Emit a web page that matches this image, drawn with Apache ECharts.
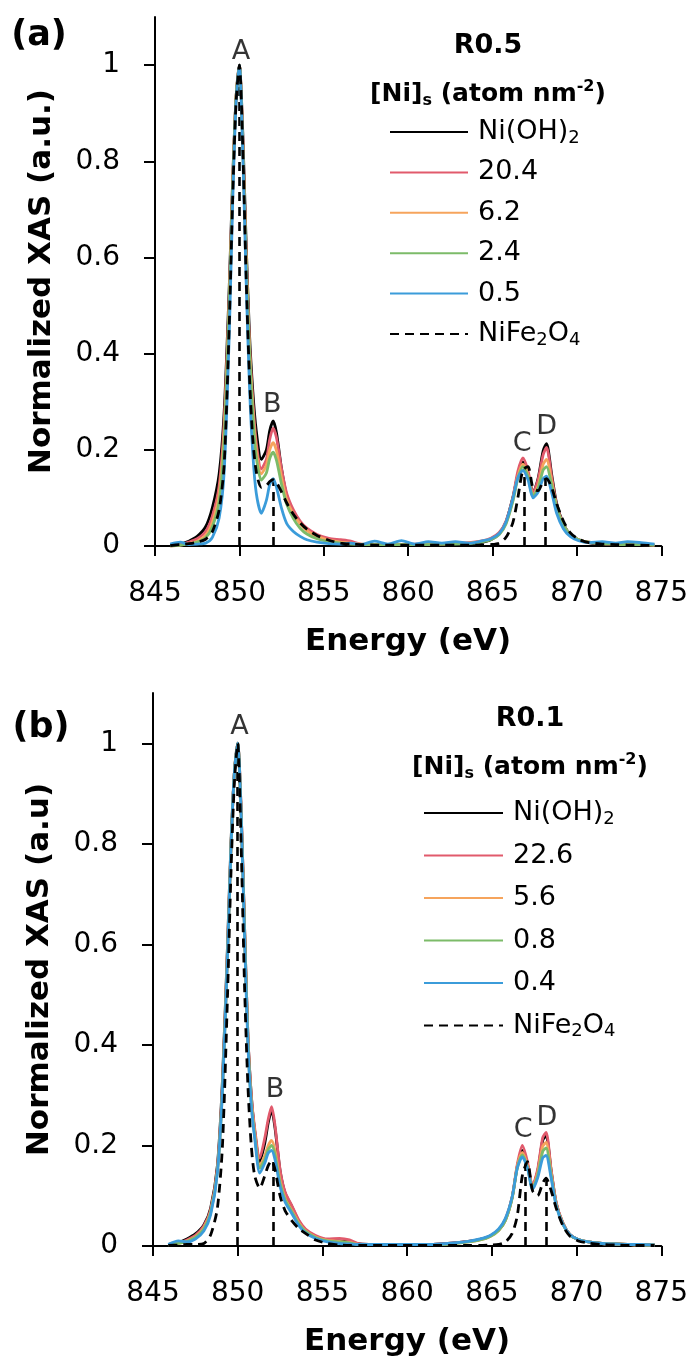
<!DOCTYPE html>
<html>
<head>
<meta charset="utf-8">
<script src="https://cdn.jsdelivr.net/npm/echarts@6/dist/echarts.min.js"></script>
<style>
html, body { margin: 0; padding: 0; background: #fff; }
#container { width: 691px; height: 1365px; }
</style>
</head>
<body>
<div id="container"></div>
<script>
var dom = document.getElementById("container");
var myChart = echarts.init(dom);
var FONT = 'DejaVu Sans';

// energy grid (eV), shared by both panels
var energy = [845.9, 846.5, 847.0, 847.5, 848.0, 848.4, 848.8, 849.1, 849.4, 849.6,
    849.8, 850.0, 850.2, 850.4, 850.6, 850.8, 851.0, 851.3, 851.6, 851.8,
    852.0, 852.2, 852.5, 852.8, 853.2, 853.6, 854.0, 854.6, 855.3, 856.0,
    856.6, 857.2, 858.0, 858.8, 859.6, 860.4, 861.2, 862.0, 862.8, 863.6,
    864.3, 864.9, 865.4, 865.8, 866.2, 866.5, 866.8, 867.1, 867.4, 867.7,
    868.0, 868.2, 868.5, 868.8, 869.2, 869.6, 870.1, 870.7, 871.5, 872.3,
    873.0, 873.8, 874.6];

// (a) R0.5
var namesA = ['Ni(OH)2', '20.4', '6.2', '2.4', '0.5', 'NiFe2O4'];
var niohA = [0.001, 0.004, 0.010, 0.020, 0.040, 0.080, 0.150, 0.280, 0.540, 0.760,
    0.930, 1.000, 0.860, 0.630, 0.440, 0.320, 0.240, 0.180, 0.200, 0.240,
    0.260, 0.235, 0.160, 0.105, 0.070, 0.048, 0.034, 0.020, 0.011, 0.007,
    0.005, 0.003, 0.002, 0.002, 0.002, 0.002, 0.002, 0.002, 0.003, 0.004,
    0.007, 0.013, 0.026, 0.050, 0.100, 0.148, 0.175, 0.152, 0.110, 0.140,
    0.198, 0.213, 0.150, 0.088, 0.046, 0.024, 0.013, 0.007, 0.004, 0.003,
    0.002, 0.002, 0.001];
var s204 = [0.000, 0.003, 0.008, 0.015, 0.030, 0.062, 0.125, 0.260, 0.520, 0.750,
    0.930, 1.000, 0.850, 0.610, 0.420, 0.300, 0.215, 0.160, 0.180, 0.222,
    0.245, 0.225, 0.160, 0.110, 0.075, 0.052, 0.037, 0.024, 0.016, 0.013,
    0.010, 0.004, 0.003, 0.003, 0.003, 0.004, 0.004, 0.005, 0.006, 0.007,
    0.010, 0.016, 0.028, 0.052, 0.100, 0.155, 0.183, 0.157, 0.110, 0.138,
    0.190, 0.205, 0.145, 0.085, 0.045, 0.024, 0.013, 0.008, 0.005, 0.004,
    0.003, 0.003, 0.002];
var s62 = [0.000, 0.002, 0.005, 0.010, 0.022, 0.050, 0.108, 0.240, 0.510, 0.745,
    0.930, 1.000, 0.840, 0.600, 0.410, 0.285, 0.200, 0.150, 0.168, 0.200,
    0.215, 0.198, 0.142, 0.097, 0.066, 0.046, 0.032, 0.020, 0.012, 0.008,
    0.006, 0.004, 0.003, 0.003, 0.003, 0.003, 0.004, 0.004, 0.005, 0.006,
    0.009, 0.014, 0.025, 0.048, 0.095, 0.145, 0.170, 0.148, 0.105, 0.125,
    0.170, 0.180, 0.135, 0.082, 0.044, 0.024, 0.013, 0.008, 0.005, 0.004,
    0.003, 0.003, 0.002];
var s24 = [0.000, 0.002, 0.004, 0.008, 0.017, 0.040, 0.092, 0.220, 0.500, 0.740,
    0.930, 1.000, 0.835, 0.590, 0.400, 0.270, 0.185, 0.137, 0.152, 0.182,
    0.195, 0.178, 0.128, 0.087, 0.057, 0.037, 0.025, 0.015, 0.009, 0.006,
    0.004, 0.003, 0.003, 0.003, 0.003, 0.003, 0.003, 0.004, 0.004, 0.005,
    0.008, 0.013, 0.024, 0.046, 0.092, 0.140, 0.165, 0.145, 0.104, 0.120,
    0.158, 0.165, 0.128, 0.080, 0.044, 0.024, 0.013, 0.008, 0.005, 0.004,
    0.003, 0.003, 0.002];
var s05 = [0.004, 0.008, 0.003, 0.004, 0.006, 0.018, 0.058, 0.155, 0.440, 0.710,
    0.920, 1.000, 0.820, 0.550, 0.330, 0.190, 0.110, 0.068, 0.095, 0.128,
    0.140, 0.122, 0.078, 0.047, 0.030, 0.020, 0.013, 0.008, 0.005, 0.004,
    0.006, 0.003, 0.010, 0.004, 0.011, 0.004, 0.009, 0.006, 0.009, 0.006,
    0.010, 0.015, 0.026, 0.050, 0.098, 0.142, 0.157, 0.138, 0.100, 0.112,
    0.140, 0.145, 0.112, 0.068, 0.036, 0.020, 0.011, 0.007, 0.009, 0.006,
    0.009, 0.007, 0.004];
var nifeA = [0.001, 0.003, 0.005, 0.008, 0.014, 0.030, 0.075, 0.170, 0.460, 0.720,
    0.920, 1.000, 0.830, 0.560, 0.350, 0.220, 0.155, 0.122, 0.126, 0.134,
    0.138, 0.132, 0.112, 0.090, 0.066, 0.048, 0.035, 0.022, 0.012, 0.006,
    0.004, 0.003, 0.002, 0.002, 0.002, 0.002, 0.002, 0.002, 0.002, 0.002,
    0.002, 0.003, 0.006, 0.018, 0.048, 0.100, 0.158, 0.165, 0.120, 0.115,
    0.135, 0.140, 0.122, 0.088, 0.052, 0.028, 0.014, 0.007, 0.004, 0.003,
    0.002, 0.002, 0.001];

// (b) R0.1
var namesB = ['Ni(OH)2', '22.6', '5.6', '0.8', '0.4', 'NiFe2O4'];
var niohB = [0.003, 0.007, 0.014, 0.024, 0.042, 0.075, 0.160, 0.330, 0.600, 0.800,
    0.940, 1.000, 0.870, 0.640, 0.420, 0.300, 0.230, 0.168, 0.205, 0.245,
    0.270, 0.235, 0.150, 0.105, 0.078, 0.050, 0.032, 0.019, 0.012, 0.010,
    0.008, 0.004, 0.003, 0.003, 0.003, 0.003, 0.003, 0.004, 0.006, 0.009,
    0.013, 0.020, 0.032, 0.052, 0.097, 0.158, 0.190, 0.163, 0.118, 0.148,
    0.210, 0.220, 0.150, 0.085, 0.045, 0.023, 0.013, 0.008, 0.005, 0.004,
    0.003, 0.002, 0.002];
var s226 = [0.002, 0.006, 0.012, 0.021, 0.040, 0.072, 0.155, 0.320, 0.590, 0.790,
    0.940, 1.000, 0.870, 0.640, 0.420, 0.300, 0.235, 0.175, 0.215, 0.252,
    0.277, 0.240, 0.152, 0.107, 0.080, 0.052, 0.034, 0.021, 0.014, 0.015,
    0.012, 0.004, 0.003, 0.003, 0.003, 0.003, 0.003, 0.004, 0.006, 0.009,
    0.013, 0.020, 0.032, 0.053, 0.098, 0.162, 0.200, 0.168, 0.120, 0.152,
    0.215, 0.226, 0.152, 0.086, 0.045, 0.023, 0.013, 0.008, 0.005, 0.004,
    0.003, 0.002, 0.002];
var s56 = [0.002, 0.005, 0.010, 0.018, 0.036, 0.068, 0.150, 0.315, 0.590, 0.790,
    0.940, 1.000, 0.860, 0.630, 0.410, 0.290, 0.225, 0.160, 0.180, 0.200,
    0.210, 0.190, 0.130, 0.095, 0.070, 0.046, 0.030, 0.018, 0.011, 0.009,
    0.007, 0.003, 0.003, 0.003, 0.003, 0.003, 0.003, 0.003, 0.005, 0.008,
    0.012, 0.019, 0.031, 0.051, 0.096, 0.158, 0.186, 0.160, 0.117, 0.145,
    0.198, 0.206, 0.145, 0.083, 0.044, 0.023, 0.013, 0.008, 0.005, 0.004,
    0.003, 0.002, 0.002];
var s08 = [0.002, 0.005, 0.009, 0.017, 0.034, 0.066, 0.147, 0.310, 0.580, 0.790,
    0.940, 1.000, 0.860, 0.630, 0.410, 0.285, 0.220, 0.155, 0.172, 0.192,
    0.200, 0.182, 0.125, 0.092, 0.068, 0.044, 0.029, 0.017, 0.010, 0.008,
    0.006, 0.003, 0.003, 0.003, 0.003, 0.003, 0.003, 0.003, 0.005, 0.008,
    0.012, 0.019, 0.031, 0.051, 0.095, 0.155, 0.181, 0.157, 0.115, 0.140,
    0.188, 0.195, 0.140, 0.081, 0.043, 0.022, 0.013, 0.008, 0.005, 0.004,
    0.003, 0.002, 0.002];
var s04 = [0.003, 0.010, 0.008, 0.014, 0.030, 0.062, 0.145, 0.310, 0.580, 0.790,
    0.940, 1.000, 0.860, 0.620, 0.400, 0.280, 0.215, 0.145, 0.165, 0.185,
    0.190, 0.172, 0.118, 0.087, 0.064, 0.041, 0.026, 0.015, 0.008, 0.005,
    0.004, 0.003, 0.003, 0.003, 0.003, 0.003, 0.003, 0.004, 0.006, 0.009,
    0.014, 0.021, 0.034, 0.055, 0.098, 0.155, 0.177, 0.155, 0.113, 0.135,
    0.175, 0.180, 0.135, 0.080, 0.043, 0.023, 0.013, 0.008, 0.005, 0.004,
    0.003, 0.003, 0.002];
var nifeB = [0.001, 0.002, 0.003, 0.003, 0.005, 0.022, 0.075, 0.200, 0.500, 0.740,
    0.920, 1.000, 0.800, 0.520, 0.320, 0.200, 0.140, 0.115, 0.140, 0.160,
    0.170, 0.152, 0.100, 0.070, 0.050, 0.035, 0.025, 0.012, 0.005, 0.002,
    0.001, 0.001, 0.001, 0.001, 0.001, 0.001, 0.001, 0.001, 0.001, 0.001,
    0.001, 0.002, 0.003, 0.008, 0.025, 0.060, 0.140, 0.168, 0.110, 0.100,
    0.125, 0.135, 0.110, 0.075, 0.040, 0.020, 0.010, 0.006, 0.003, 0.002,
    0.001, 0.001, 0.001];

// NiFe2O4 peak positions (vertical dashed drop lines)
var dropEA = [850.0, 852.0, 866.9, 868.15];
var dropTopA = [1.0, 0.138, 0.165, 0.14];
var dropEB = [850.0, 852.1, 866.95, 868.2];
var dropTopB = [1.0, 0.17, 0.168, 0.135];

// peak letters
var tags = ['A', 'B', 'C', 'D'];
var tagEA = [850.1, 851.95, 866.75, 868.2];
var tagVA = [1.027, 0.293, 0.212, 0.247];
var tagEB = [850.1, 852.2, 866.85, 868.25];
var tagVB = [1.032, 0.31, 0.23, 0.254];

var yTicks = [0, 0.2, 0.4, 0.6, 0.8, 1];
var colors = ['#000000', '#E15A6C', '#F6A45C', '#7CBB69', '#3B9CDA', '#000000'];

var series = [];
function addPanel(g, names, curves, dropE, dropTop, tagE, tagV) {
    curves.forEach(function (vals, i) {
        var s = {
            type: 'line',
            name: names[i],
            xAxisIndex: g,
            yAxisIndex: g,
            data: energy.map(function (e, k) { return [e, vals[k]]; }),
            symbol: 'none',
            smooth: 0.25,
            lineStyle: { color: colors[i], width: 2.8, type: i === 5 ? [9, 6] : 'solid' },
            itemStyle: { color: colors[i] },
            z: 2 + i
        };
        if (i === 5) {
            s.markLine = {
                silent: true,
                symbol: ['none', 'none'],
                label: { show: false },
                lineStyle: { color: '#000', width: 2.6, type: [9, 6] },
                data: dropE.map(function (e, k) {
                    return [{ coord: [e, 0] }, { coord: [e, dropTop[k]] }];
                })
            };
        }
        series.push(s);
    });
    // letters above the peaks
    series.push({
        type: 'scatter',
        xAxisIndex: g,
        yAxisIndex: g,
        symbolSize: 0,
        silent: true,
        data: tagE.map(function (e, k) { return [e, tagV[k]]; }),
        label: {
            show: true,
            position: 'inside',
            formatter: function (p) { return tags[p.dataIndex]; },
            fontFamily: FONT,
            fontSize: 27,
            color: '#000'
        },
        z: 10
    });
}
addPanel(0, namesA, [niohA, s204, s62, s24, s05, nifeA], dropEA, dropTopA, tagEA, tagVA);
addPanel(1, namesB, [niohB, s226, s56, s08, s04, nifeB], dropEB, dropTopB, tagEB, tagVB);

// subscripts for the legend names
function legendFmt(name) {
    if (name === 'Ni(OH)2') return 'Ni(OH){s|2}';
    if (name === 'NiFe2O4') return 'NiFe{s|2}O{s|4}';
    return name;
}
var legendText = {
    fontFamily: FONT,
    fontSize: 27,
    color: '#000',
    lineHeight: 30,
    padding: [0, 0, 0, 5],
    rich: {
        s: { fontFamily: FONT, fontSize: 18, lineHeight: 12, verticalAlign: 'bottom', color: '#000' }
    }
};

function xAxisCfg(g) {
    return {
        gridIndex: g,
        type: 'value',
        min: 845,
        max: 875,
        interval: 5,
        name: 'Energy (eV)',
        nameLocation: 'middle',
        nameGap: 80,
        nameTextStyle: { fontFamily: FONT, fontSize: 31, fontWeight: 'bold', color: '#000' },
        axisLine: { onZero: false, lineStyle: { color: '#000', width: 2 } },
        axisTick: { inside: false, length: 10, lineStyle: { color: '#000', width: 2 } },
        axisLabel: { fontFamily: FONT, fontSize: 28, color: '#000', margin: 34 },
        splitLine: { show: false }
    };
}
function yAxisCfg(g, title) {
    return {
        gridIndex: g,
        type: 'value',
        min: 0,
        max: 1.1,
        interval: 0.2,
        name: title,
        nameLocation: 'middle',
        nameGap: 98,
        nameTextStyle: { fontFamily: FONT, fontSize: 31, fontWeight: 'bold', color: '#000' },
        axisLine: { show: true, lineStyle: { color: '#000', width: 2 } },
        axisTick: { show: true, inside: false, length: 11, customValues: yTicks, lineStyle: { color: '#000', width: 2 } },
        axisLabel: { fontFamily: FONT, fontSize: 28, color: '#000', margin: 35, customValues: yTicks },
        splitLine: { show: false }
    };
}

function headerText(x, y, big) {
    return [
        {
            type: 'text', x: x, y: y - 46,
            style: {
                text: big, fontFamily: FONT, fontSize: 27, fontWeight: 'bold', fill: '#000',
                textAlign: 'center', align: 'center', textVerticalAlign: 'middle', verticalAlign: 'middle'
            }
        },
        {
            type: 'text', x: x, y: y + 2,
            style: {
                text: '{b|[Ni]}{s|s}{b| (atom nm}{p|-2}{b|)}',
                fill: '#000',
                textAlign: 'center', align: 'center', textVerticalAlign: 'middle', verticalAlign: 'middle',
                rich: {
                    b: { fontFamily: FONT, fontSize: 25, fontWeight: 'bold', lineHeight: 30, fill: '#000', color: '#000' },
                    s: { fontFamily: FONT, fontSize: 16, fontWeight: 'bold', lineHeight: 10, verticalAlign: 'bottom', fill: '#000', color: '#000' },
                    p: { fontFamily: FONT, fontSize: 16, fontWeight: 'bold', lineHeight: 12, verticalAlign: 'top', fill: '#000', color: '#000' }
                }
            }
        }
    ];
}
function panelLabel(x, y, txt) {
    return {
        type: 'text', x: x, y: y,
        style: {
            text: txt, fontFamily: FONT, fontSize: 35, fontWeight: 'bold', fill: '#000',
            textAlign: 'center', align: 'center', textVerticalAlign: 'middle', verticalAlign: 'middle'
        }
    };
}

var legendBase = {
    orient: 'vertical', padding: 0, itemHeight: 14, selectedMode: false,
    itemStyle: { opacity: 0 },
    formatter: legendFmt, textStyle: legendText
};

option = {
    backgroundColor: '#fff',
    animation: false,
    grid: [
        { left: 155, top: 17, width: 507, height: 529 },
        { left: 153, top: 693, width: 509, height: 553 }
    ],
    xAxis: [xAxisCfg(0), xAxisCfg(1)],
    yAxis: [yAxisCfg(0, 'Normalized XAS (a.u.)'), yAxisCfg(1, 'Normalized XAS (a.u)')],
    legend: [
        Object.assign({}, legendBase, { data: namesA, left: 389, top: 117, itemWidth: 78, itemGap: 10.4 }),
        Object.assign({}, legendBase, { data: namesB, left: 423, top: 798, itemWidth: 79, itemGap: 12.5 })
    ],
    graphic: [panelLabel(39, 36, '(a)'), panelLabel(41, 728, '(b)')]
        .concat(headerText(488, 92, 'R0.5'))
        .concat(headerText(530, 765, 'R0.1')),
    series: series
};
myChart.setOption(option, true);
</script>
</body>
</html>
